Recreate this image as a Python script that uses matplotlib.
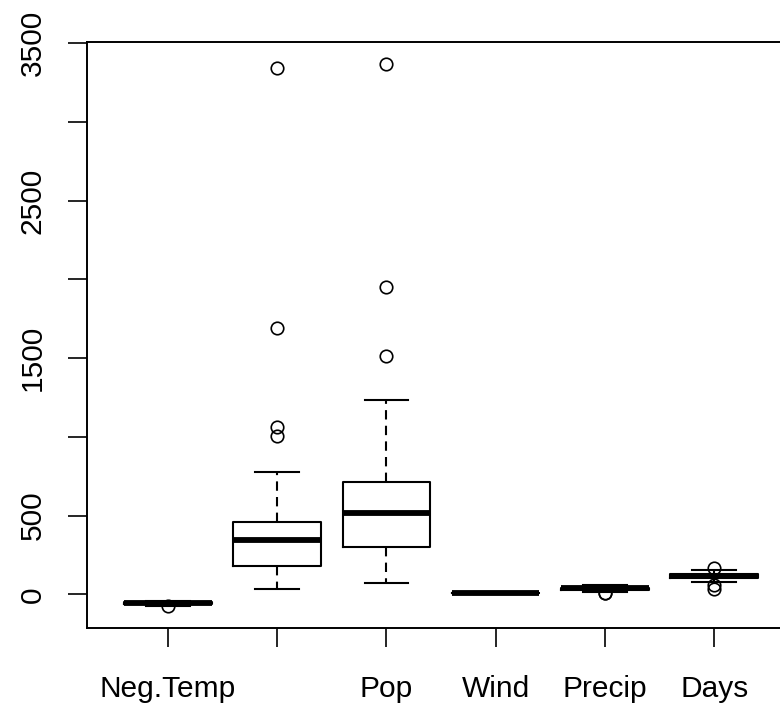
import matplotlib
matplotlib.use('Agg')
import matplotlib.pyplot as plt

plt.rcParams['font.family'] = ['Liberation Sans', 'DejaVu Sans']

# boxplot summaries
variables = ['Neg.Temp', 'Manuf', 'Pop', 'Wind', 'Precip', 'Days']
tick_names = ['Neg.Temp', '', 'Pop', 'Wind', 'Precip', 'Days']
q1 = [-59.3, 181, 299, 8.7, 30.96, 103]
med = [-54.6, 347, 515, 9.3, 38.74, 115]
q3 = [-50.6, 462, 717, 10.6, 43.11, 128]
whislo = [-70.3, 35, 71, 6.0, 12.95, 78]
whishi = [-43.5, 775, 1233, 12.7, 59.8, 158]
fliers = [[-75.5], [1007, 1064, 1692, 3344], [1513, 1950, 3369], [], [7.05, 7.77], [36, 58, 166]]

y_ticks = [0, 500, 1000, 1500, 2000, 2500, 3000, 3500]
y_labels = ['0', '500', '', '1500', '', '2500', '', '3500']

stats = []
for i in range(len(variables)):
    stats.append(dict(label=tick_names[i], q1=q1[i], med=med[i], q3=q3[i],
                      whislo=whislo[i], whishi=whishi[i], fliers=fliers[i]))

fig = plt.figure(figsize=(7.8, 7.09), dpi=100)
ax = fig.add_axes([87 / 780, 81 / 709, 708 / 780, 586 / 709])

ax.bxp(stats, positions=range(1, 7), widths=0.8, capwidths=0.4,
       boxprops=dict(color='black', linewidth=1.5),
       medianprops=dict(color='black', linewidth=4.2, solid_capstyle='butt'),
       whiskerprops=dict(color='black', linewidth=1.5, linestyle=(0, (4.5, 3))),
       capprops=dict(color='black', linewidth=1.5),
       flierprops=dict(marker='o', markerfacecolor='none', markeredgecolor='black',
                       markersize=9, markeredgewidth=1.2))

ax.set_xlim(0.26, 6.74)
ax.set_ylim(-213, 3507)
ax.set_yticks(y_ticks)
ax.set_yticklabels(y_labels, rotation=90, va='center')
ax.tick_params(axis='both', labelsize=21.5, length=14, width=1.2, color='black')
ax.tick_params(axis='y', pad=15)
ax.tick_params(axis='x', pad=20)
for s in ax.spines.values():
    s.set_linewidth(1.4)

fig.savefig('out.png', dpi=100)
